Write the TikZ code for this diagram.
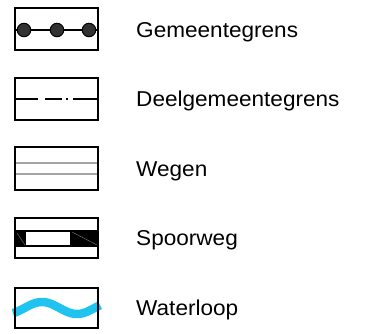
\documentclass[tikz,border=0pt]{standalone}
\usepackage{fontspec}
\setmainfont[FakeStretch=1.05]{Liberation Sans}
\definecolor{water}{RGB}{30,195,240}
\definecolor{roadgray}{RGB}{165,165,165}
\definecolor{dotfill}{RGB}{50,50,50}
\begin{document}
\begin{tikzpicture}[x=1pt,y=-1pt,
  legbox/.style={draw=black,line width=2pt},
  label/.style={anchor=base west,inner sep=0pt,font=\fontsize{21.5}{24}\selectfont},
  dotmark/.style={circle,draw=black,fill=dotfill,line width=1pt,minimum size=13.5pt,inner sep=0pt}]
\useasboundingbox (0,0) rectangle (378,334);
% 1 Gemeentegrens
\draw[line width=1.6pt] (15,30) -- (98,30);
\node[dotmark] (d1) at (24,30) {};
\node[dotmark] (d2) at (57,30) {};
\node[dotmark] (d3) at (89,30) {};
\draw[legbox] (15,8) rectangle (98,50);
\node[label] (t1) at (136,38) {Gemeentegrens};
% 2 Deelgemeentegrens
\draw[line width=2.2pt] (15,99) -- (38,99) (45,99) -- (62,99) (66,99) -- (68,99) (73,99) -- (98,99);
\draw[legbox] (15,78) rectangle (98,120);
\node[label] (t2) at (136,106.7) {Deelgemeentegrens};
% 3 Wegen
\draw[roadgray,line width=1.8pt] (15,163) -- (98,163) (15,174) -- (98,174);
\draw[legbox] (15,147) rectangle (98,190);
\node[label] (t3) at (136,176.5) {Wegen};
% 4 Spoorweg
\fill[black] (15,230) rectangle (98,246.7);
\fill[white] (26,231.7) rectangle (70,245);
\draw[gray,line width=0.4pt] (17,233) -- (25,245) (72,232) -- (97,245);
\draw[legbox] (15,218) rectangle (98,258);
\node[label] (t4) at (136,246) {Spoorweg};
% 5 Waterloop
\draw[water,line width=8.5pt] plot[domain=13:100,samples=60,smooth] (\x,{308-6*sin(5.142857*(\x-24.5))});
\draw[legbox] (15,288) rectangle (98,328);
\node[label] (t5) at (136,315) {Waterloop};
\end{tikzpicture}
\end{document}
